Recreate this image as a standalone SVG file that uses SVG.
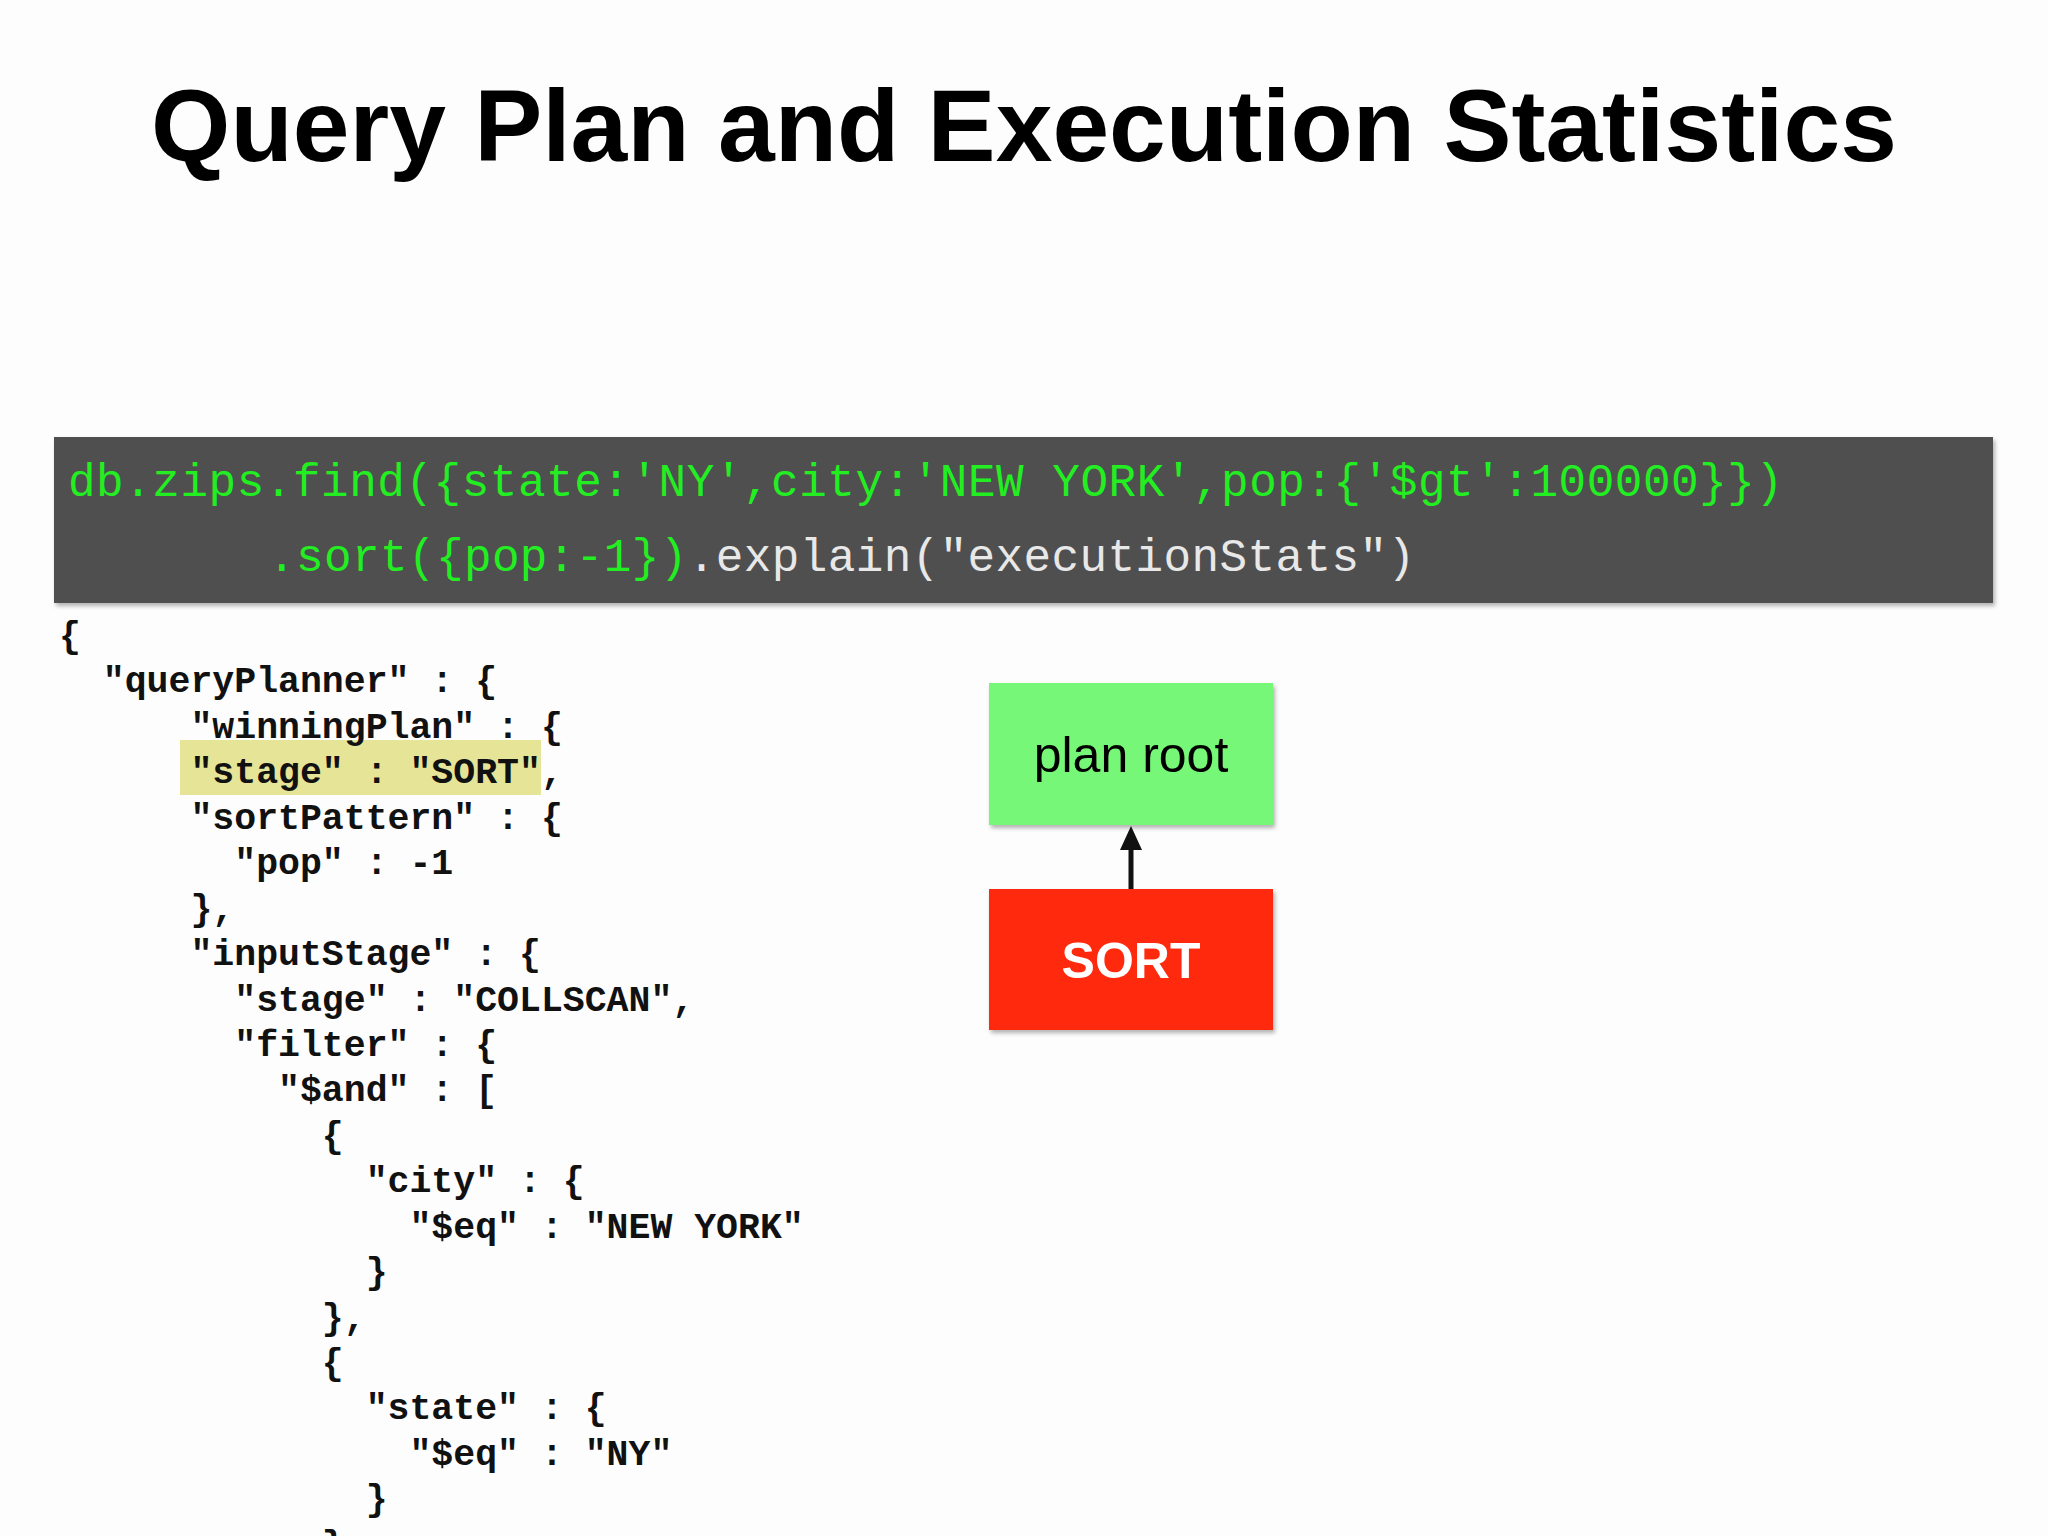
<svg xmlns="http://www.w3.org/2000/svg" width="2048" height="1536" viewBox="0 0 2048 1536">
<style>
.j{font-family:"Liberation Mono","DejaVu Sans Mono",monospace;font-weight:bold;font-size:36.5px;fill:#111;white-space:pre}
.c{font-family:"Liberation Mono","DejaVu Sans Mono",monospace;font-size:46px;white-space:pre}
</style>
<defs>
<filter id="sh" x="-5%" y="-5%" width="115%" height="120%"><feDropShadow dx="2" dy="3" stdDeviation="2" flood-opacity="0.3"/></filter>
</defs>
<rect width="2048" height="1536" fill="#fdfdfd"/>
<text x="1024" y="161" text-anchor="middle" font-family="Liberation Sans,Arial,sans-serif" font-weight="bold" font-size="102">Query Plan and Execution Statistics</text>
<rect x="54" y="437" width="1939" height="166" fill="#505050" filter="url(#sh)"/>
<text class="c" x="68" y="496" fill="#22ee22" textLength="1715">db.zips.find({state:'NY',city:'NEW YORK',pop:{'$gt':100000}})</text>
<text class="c" x="268" y="571" textLength="1147"><tspan fill="#22ee22">.sort({pop:-1})</tspan><tspan fill="#e8e8e8">.explain("executionStats")</tspan></text>
<rect x="180" y="740" width="361" height="55" fill="#e6e597"/>
<g class="jt">
<text class="j" x="59" y="647">{</text>
<text class="j" x="59" y="692">  "queryPlanner" : {</text>
<text class="j" x="59" y="738">      "winningPlan" : {</text>
<text class="j" x="59" y="783">      "stage" : "SORT",</text>
<text class="j" x="59" y="829">      "sortPattern" : {</text>
<text class="j" x="59" y="874">        "pop" : -1</text>
<text class="j" x="59" y="920">      },</text>
<text class="j" x="59" y="965">      "inputStage" : {</text>
<text class="j" x="59" y="1011">        "stage" : "COLLSCAN",</text>
<text class="j" x="59" y="1056">        "filter" : {</text>
<text class="j" x="59" y="1101">          "$and" : [</text>
<text class="j" x="59" y="1147">            {</text>
<text class="j" x="59" y="1192">              "city" : {</text>
<text class="j" x="59" y="1238">                "$eq" : "NEW YORK"</text>
<text class="j" x="59" y="1283">              }</text>
<text class="j" x="59" y="1329">            },</text>
<text class="j" x="59" y="1374">            {</text>
<text class="j" x="59" y="1419">              "state" : {</text>
<text class="j" x="59" y="1465">                "$eq" : "NY"</text>
<text class="j" x="59" y="1510">              }</text>
<text class="j" x="59" y="1556">            }</text>
</g>
<g id="connectors">
<line x1="1131" y1="889" x2="1131" y2="840" stroke="#111" stroke-width="5"/>
<path d="M1120,850 L1131,826 L1142,850 z" fill="#111"/>
</g>
<g id="plan-root">
<rect x="989" y="683" width="284" height="142" fill="#77f777" filter="url(#sh)"/>
<text x="1131" y="772" text-anchor="middle" font-family="Liberation Sans,Arial,sans-serif" font-size="50">plan root</text>
</g>
<g id="sort">
<rect x="989" y="889" width="284" height="141" fill="#ff2a0a" filter="url(#sh)"/>
<text x="1131" y="978" text-anchor="middle" font-family="Liberation Sans,Arial,sans-serif" font-weight="bold" font-size="50" fill="#fff">SORT</text>
</g>
</svg>
